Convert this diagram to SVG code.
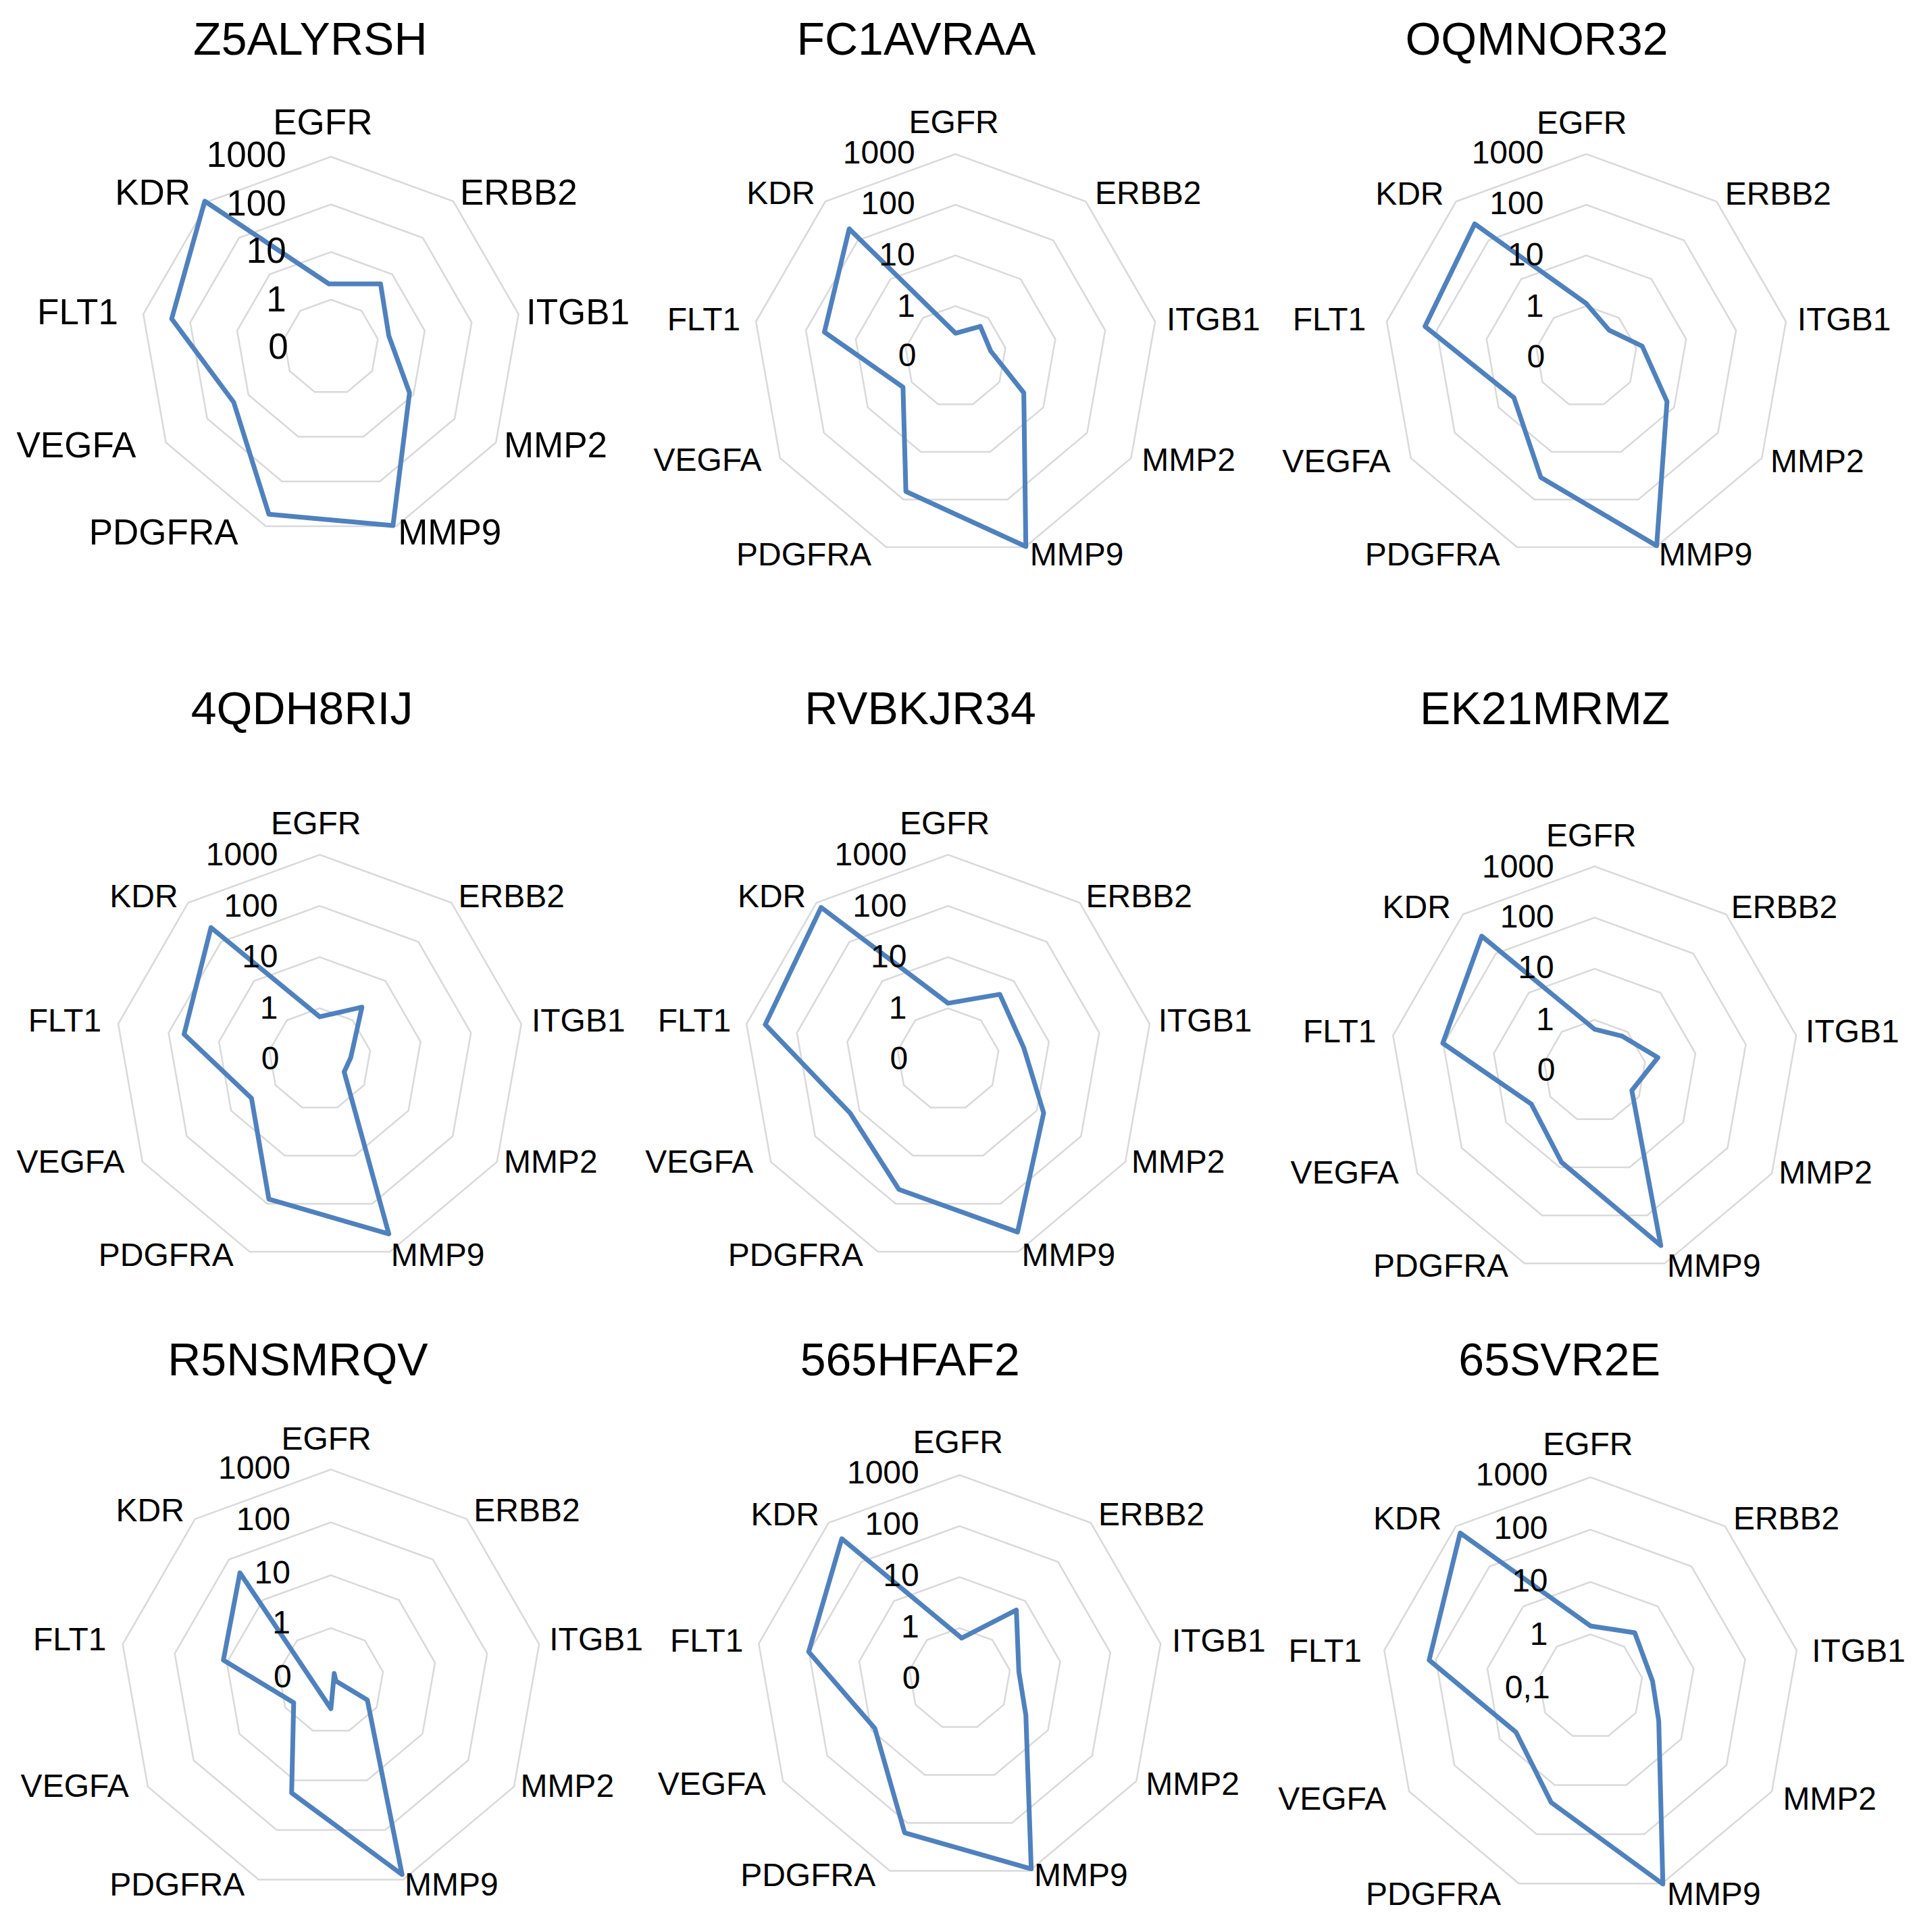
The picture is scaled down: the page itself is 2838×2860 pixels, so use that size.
<svg xmlns="http://www.w3.org/2000/svg" xmlns:xlink="http://www.w3.org/1999/xlink" width="2838" height="2860" viewBox="0 0 2838 2860">
<style>
text{font-family:"Liberation Sans",Arial,sans-serif;fill:#000}
.t{font-size:68px;text-anchor:middle}
.a{font-size:48px}
.b{font-size:53px}
.n{text-anchor:end}
#g9{fill:none;stroke:#D9D9D9;stroke-width:2.5;vector-effect:non-scaling-stroke}
.data{fill:none;stroke:#4F81BD;stroke-width:7;stroke-linejoin:round;vector-effect:non-scaling-stroke}
</style>
<defs>
<polygon id="g9" points="0,-1 0.6428,-0.766 0.9848,-0.1736 0.866,0.5 0.342,0.9397 -0.342,0.9397 -0.866,0.5 -0.9848,-0.1736 -0.6428,-0.766" fill="none" stroke="#D9D9D9" stroke-width="2.5" vector-effect="non-scaling-stroke"/>
</defs>
<rect width="2838" height="2860" fill="#fff"/>

<!-- Chart 1 -->
<g id="chart-Z5ALYRSH" transform="translate(0,0) scale(0.6124,0.5618)">
<g transform="translate(800 915) scale(1.633 1.78)"><use href="#g9" transform="scale(70.5)"/><use href="#g9" transform="scale(141)"/><use href="#g9" transform="scale(211.5)"/><use href="#g9" transform="scale(282)"/></g>
<polygon class="data" points="795,748 920,748 940,885 990,1035 950,1385 650,1355 565,1060 415,840 495,530"/>
<text class="t" transform="translate(750 145) scale(1.633 1.78)">Z5ALYRSH</text>
<g class="b">
<text transform="translate(660 355) scale(1.633 1.78)">EGFR</text>
<text transform="translate(1112 540) scale(1.633 1.78)">ERBB2</text>
<text transform="translate(1272 855) scale(1.633 1.78)">ITGB1</text>
<text transform="translate(1218 1205) scale(1.633 1.78)">MMP2</text>
<text transform="translate(962 1435) scale(1.633 1.78)">MMP9</text>
<text transform="translate(215 1435) scale(1.633 1.78)">PDGFRA</text>
<text transform="translate(40 1205) scale(1.633 1.78)">VEGFA</text>
<text transform="translate(90 855) scale(1.633 1.78)">FLT1</text>
<text transform="translate(278 540) scale(1.633 1.78)">KDR</text>
<text class="n" transform="translate(692 440) scale(1.633 1.78)">1000</text>
<text class="n" transform="translate(692 568) scale(1.633 1.78)">100</text>
<text class="n" transform="translate(692 693) scale(1.633 1.78)">10</text>
<text class="n" transform="translate(692 820) scale(1.633 1.78)">1</text>
<text class="n" transform="translate(697 945) scale(1.633 1.78)">0</text>
</g>
</g>

<!-- Chart 2 -->
<g id="chart-FC1AVRAA" transform="translate(940,0) scale(0.6124,0.5618)">
<g transform="translate(775 940) scale(1.633 1.78)"><use href="#g9" transform="scale(75)"/><use href="#g9" transform="scale(150)"/><use href="#g9" transform="scale(225)"/><use href="#g9" transform="scale(300)"/></g>
<polygon class="data" points="775,878 835,860 860,925 940,1035 945,1440 655,1295 648,1020 458,875 518,603"/>
<text class="t" transform="translate(680 145) scale(1.633 1.78)">FC1AVRAA</text>
<g class="a">
<text transform="translate(662 350) scale(1.633 1.78)">EGFR</text>
<text transform="translate(1112 538) scale(1.633 1.78)">ERBB2</text>
<text transform="translate(1285 870) scale(1.633 1.78)">ITGB1</text>
<text transform="translate(1225 1240) scale(1.633 1.78)">MMP2</text>
<text transform="translate(955 1490) scale(1.633 1.78)">MMP9</text>
<text transform="translate(245 1490) scale(1.633 1.78)">PDGFRA</text>
<text transform="translate(45 1240) scale(1.633 1.78)">VEGFA</text>
<text transform="translate(78 870) scale(1.633 1.78)">FLT1</text>
<text transform="translate(270 538) scale(1.633 1.78)">KDR</text>
<text class="n" transform="translate(677 430) scale(1.633 1.78)">1000</text>
<text class="n" transform="translate(677 565) scale(1.633 1.78)">100</text>
<text class="n" transform="translate(677 700) scale(1.633 1.78)">10</text>
<text class="n" transform="translate(677 835) scale(1.633 1.78)">1</text>
<text class="n" transform="translate(680 965) scale(1.633 1.78)">0</text>
</g>
</g>

<!-- Chart 3 -->
<g id="chart-OQMNOR32" transform="translate(1880,0) scale(0.6124,0.5618)">
<g transform="translate(765 940) scale(1.633 1.78)"><use href="#g9" transform="scale(75)"/><use href="#g9" transform="scale(150)"/><use href="#g9" transform="scale(225)"/><use href="#g9" transform="scale(300)"/></g>
<polygon class="data" points="765,800 820,870 900,912 960,1058 935,1438 655,1258 590,1048 375,860 495,590"/>
<text class="t" transform="translate(645 145) scale(1.633 1.78)">OQMNOR32</text>
<g class="a">
<text transform="translate(645 352) scale(1.633 1.78)">EGFR</text>
<text transform="translate(1100 540) scale(1.633 1.78)">ERBB2</text>
<text transform="translate(1275 870) scale(1.633 1.78)">ITGB1</text>
<text transform="translate(1210 1245) scale(1.633 1.78)">MMP2</text>
<text transform="translate(940 1490) scale(1.633 1.78)">MMP9</text>
<text transform="translate(230 1490) scale(1.633 1.78)">PDGFRA</text>
<text transform="translate(30 1245) scale(1.633 1.78)">VEGFA</text>
<text transform="translate(55 870) scale(1.633 1.78)">FLT1</text>
<text transform="translate(255 540) scale(1.633 1.78)">KDR</text>
<text class="n" transform="translate(662 430) scale(1.633 1.78)">1000</text>
<text class="n" transform="translate(662 565) scale(1.633 1.78)">100</text>
<text class="n" transform="translate(662 700) scale(1.633 1.78)">10</text>
<text class="n" transform="translate(662 835) scale(1.633 1.78)">1</text>
<text class="n" transform="translate(665 968) scale(1.633 1.78)">0</text>
</g>
</g>

<!-- Chart 4 -->
<g id="chart-4QDH8RIJ" transform="translate(0,1000) scale(0.6124,0.5741)">
<g transform="translate(773 990) scale(1.633 1.742)"><use href="#g9" transform="scale(75.75)"/><use href="#g9" transform="scale(151.5)"/><use href="#g9" transform="scale(227.25)"/><use href="#g9" transform="scale(303)"/></g>
<polygon class="data" points="773,880 875,855 848,985 832,1022 940,1440 650,1350 608,1090 445,925 510,650"/>
<text class="t" transform="translate(730 125) scale(1.633 1.742)">4QDH8RIJ</text>
<g class="a">
<text transform="translate(655 410) scale(1.633 1.742)">EGFR</text>
<text transform="translate(1108 597) scale(1.633 1.742)">ERBB2</text>
<text transform="translate(1285 918) scale(1.633 1.742)">ITGB1</text>
<text transform="translate(1218 1282) scale(1.633 1.742)">MMP2</text>
<text transform="translate(945 1522) scale(1.633 1.742)">MMP9</text>
<text transform="translate(238 1522) scale(1.633 1.742)">PDGFRA</text>
<text transform="translate(40 1282) scale(1.633 1.742)">VEGFA</text>
<text transform="translate(68 918) scale(1.633 1.742)">FLT1</text>
<text transform="translate(265 597) scale(1.633 1.742)">KDR</text>
<text class="n" transform="translate(672 490) scale(1.633 1.742)">1000</text>
<text class="n" transform="translate(672 622) scale(1.633 1.742)">100</text>
<text class="n" transform="translate(672 752) scale(1.633 1.742)">10</text>
<text class="n" transform="translate(672 885) scale(1.633 1.742)">1</text>
<text class="n" transform="translate(675 1015) scale(1.633 1.742)">0</text>
</g>
</g>

<!-- Chart 5 -->
<g id="chart-RVBKJR34" transform="translate(940,1000) scale(0.6124,0.5741)">
<g transform="translate(757 990) scale(1.633 1.742)"><use href="#g9" transform="scale(75.75)"/><use href="#g9" transform="scale(151.5)"/><use href="#g9" transform="scale(227.25)"/><use href="#g9" transform="scale(303)"/></g>
<polygon class="data" points="757,845 882,822 940,960 988,1128 925,1435 638,1325 520,1128 315,900 450,598"/>
<text class="t" transform="translate(690 125) scale(1.633 1.742)">RVBKJR34</text>
<g class="a">
<text transform="translate(640 410) scale(1.633 1.742)">EGFR</text>
<text transform="translate(1090 597) scale(1.633 1.742)">ERBB2</text>
<text transform="translate(1265 918) scale(1.633 1.742)">ITGB1</text>
<text transform="translate(1200 1282) scale(1.633 1.742)">MMP2</text>
<text transform="translate(935 1522) scale(1.633 1.742)">MMP9</text>
<text transform="translate(225 1522) scale(1.633 1.742)">PDGFRA</text>
<text transform="translate(25 1282) scale(1.633 1.742)">VEGFA</text>
<text transform="translate(55 918) scale(1.633 1.742)">FLT1</text>
<text transform="translate(248 597) scale(1.633 1.742)">KDR</text>
<text class="n" transform="translate(657 490) scale(1.633 1.742)">1000</text>
<text class="n" transform="translate(657 622) scale(1.633 1.742)">100</text>
<text class="n" transform="translate(657 752) scale(1.633 1.742)">10</text>
<text class="n" transform="translate(657 885) scale(1.633 1.742)">1</text>
<text class="n" transform="translate(660 1015) scale(1.633 1.742)">0</text>
</g>
</g>

<!-- Chart 6 -->
<g id="chart-EK21MRMZ" transform="translate(1880,1000) scale(0.6124,0.5741)">
<g transform="translate(785 1020) scale(1.633 1.742)"><use href="#g9" transform="scale(75.75)"/><use href="#g9" transform="scale(151.5)"/><use href="#g9" transform="scale(227.25)"/><use href="#g9" transform="scale(303)"/></g>
<polygon class="data" points="785,912 852,930 938,985 875,1070 945,1470 705,1255 632,1105 418,948 512,672"/>
<text class="t" transform="translate(665 125) scale(1.633 1.742)">EK21MRMZ</text>
<g class="a">
<text transform="translate(668 440) scale(1.633 1.742)">EGFR</text>
<text transform="translate(1115 625) scale(1.633 1.742)">ERBB2</text>
<text transform="translate(1295 945) scale(1.633 1.742)">ITGB1</text>
<text transform="translate(1230 1310) scale(1.633 1.742)">MMP2</text>
<text transform="translate(960 1550) scale(1.633 1.742)">MMP9</text>
<text transform="translate(250 1550) scale(1.633 1.742)">PDGFRA</text>
<text transform="translate(50 1310) scale(1.633 1.742)">VEGFA</text>
<text transform="translate(80 945) scale(1.633 1.742)">FLT1</text>
<text transform="translate(272 625) scale(1.633 1.742)">KDR</text>
<text class="n" transform="translate(687 520) scale(1.633 1.742)">1000</text>
<text class="n" transform="translate(687 650) scale(1.633 1.742)">100</text>
<text class="n" transform="translate(687 780) scale(1.633 1.742)">10</text>
<text class="n" transform="translate(687 915) scale(1.633 1.742)">1</text>
<text class="n" transform="translate(690 1045) scale(1.633 1.742)">0</text>
</g>
</g>

<!-- Chart 7 -->
<g id="chart-R5NSMRQV" transform="translate(0,1980) scale(0.6124,0.5618)">
<g transform="translate(800 905) scale(1.633 1.78)"><use href="#g9" transform="scale(78.25)"/><use href="#g9" transform="scale(156.5)"/><use href="#g9" transform="scale(234.75)"/><use href="#g9" transform="scale(313)"/></g>
<polygon class="data" points="800,978 808,885 812,905 888,955 972,1415 705,1200 710,962 540,850 580,620"/>
<text class="t" transform="translate(720 100) scale(1.633 1.78)">R5NSMRQV</text>
<g class="a">
<text transform="translate(680 295) scale(1.633 1.78)">EGFR</text>
<text transform="translate(1145 485) scale(1.633 1.78)">ERBB2</text>
<text transform="translate(1328 825) scale(1.633 1.78)">ITGB1</text>
<text transform="translate(1258 1210) scale(1.633 1.78)">MMP2</text>
<text transform="translate(978 1470) scale(1.633 1.78)">MMP9</text>
<text transform="translate(265 1470) scale(1.633 1.78)">PDGFRA</text>
<text transform="translate(50 1210) scale(1.633 1.78)">VEGFA</text>
<text transform="translate(80 825) scale(1.633 1.78)">FLT1</text>
<text transform="translate(280 485) scale(1.633 1.78)">KDR</text>
<text class="n" transform="translate(702 372) scale(1.633 1.78)">1000</text>
<text class="n" transform="translate(702 508) scale(1.633 1.78)">100</text>
<text class="n" transform="translate(702 648) scale(1.633 1.78)">10</text>
<text class="n" transform="translate(702 780) scale(1.633 1.78)">1</text>
<text class="n" transform="translate(705 922) scale(1.633 1.78)">0</text>
</g>
</g>

<!-- Chart 8 -->
<g id="chart-565HFAF2" transform="translate(940,1980) scale(0.6124,0.5618)">
<g transform="translate(785 900) scale(1.633 1.78)"><use href="#g9" transform="scale(75.5)"/><use href="#g9" transform="scale(151)"/><use href="#g9" transform="scale(226.5)"/><use href="#g9" transform="scale(302)"/></g>
<polygon class="data" points="790,792 922,718 928,880 945,995 958,1400 652,1305 580,1030 420,828 500,530"/>
<text class="t" transform="translate(665 100) scale(1.633 1.78)">565HFAF2</text>
<g class="a">
<text transform="translate(672 305) scale(1.633 1.78)">EGFR</text>
<text transform="translate(1120 495) scale(1.633 1.78)">ERBB2</text>
<text transform="translate(1298 828) scale(1.633 1.78)">ITGB1</text>
<text transform="translate(1235 1205) scale(1.633 1.78)">MMP2</text>
<text transform="translate(965 1445) scale(1.633 1.78)">MMP9</text>
<text transform="translate(255 1445) scale(1.633 1.78)">PDGFRA</text>
<text transform="translate(55 1205) scale(1.633 1.78)">VEGFA</text>
<text transform="translate(85 828) scale(1.633 1.78)">FLT1</text>
<text transform="translate(280 495) scale(1.633 1.78)">KDR</text>
<text class="n" transform="translate(687 385) scale(1.633 1.78)">1000</text>
<text class="n" transform="translate(687 520) scale(1.633 1.78)">100</text>
<text class="n" transform="translate(687 655) scale(1.633 1.78)">10</text>
<text class="n" transform="translate(687 790) scale(1.633 1.78)">1</text>
<text class="n" transform="translate(690 925) scale(1.633 1.78)">0</text>
</g>
</g>

<!-- Chart 9 -->
<g id="chart-65SVR2E" transform="translate(1880,1980) scale(0.6124,0.5618)">
<g transform="translate(775 920) scale(1.633 1.78)"><use href="#g9" transform="scale(77.5)"/><use href="#g9" transform="scale(155)"/><use href="#g9" transform="scale(232.5)"/><use href="#g9" transform="scale(310)"/></g>
<polygon class="data" points="775,760 882,778 925,905 940,1010 950,1440 680,1225 595,1040 385,850 460,515"/>
<text class="t" transform="translate(700 100) scale(1.633 1.78)">65SVR2E</text>
<g class="a">
<text transform="translate(660 310) scale(1.633 1.78)">EGFR</text>
<text transform="translate(1120 505) scale(1.633 1.78)">ERBB2</text>
<text transform="translate(1310 855) scale(1.633 1.78)">ITGB1</text>
<text transform="translate(1240 1245) scale(1.633 1.78)">MMP2</text>
<text transform="translate(960 1495) scale(1.633 1.78)">MMP9</text>
<text transform="translate(232 1495) scale(1.633 1.78)">PDGFRA</text>
<text transform="translate(20 1245) scale(1.633 1.78)">VEGFA</text>
<text transform="translate(45 855) scale(1.633 1.78)">FLT1</text>
<text transform="translate(250 505) scale(1.633 1.78)">KDR</text>
<text class="n" transform="translate(672 390) scale(1.633 1.78)">1000</text>
<text class="n" transform="translate(672 530) scale(1.633 1.78)">100</text>
<text class="n" transform="translate(672 670) scale(1.633 1.78)">10</text>
<text class="n" transform="translate(672 810) scale(1.633 1.78)">1</text>
<text class="n" transform="translate(677 950) scale(1.633 1.78)">0,1</text>
</g>
</g>
</svg>
